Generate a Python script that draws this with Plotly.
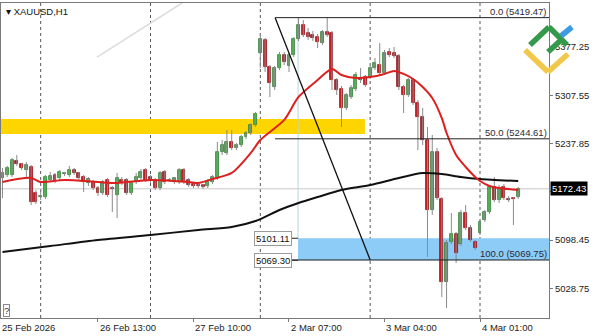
import plotly.graph_objects as go

# ---------------- data ----------------
bar_index = list(range(109))
open_ = [
    5188.0, 5192.4, 5192.4, 5212.6, 5208.2, 5199.6, 5203.9, 5166.4, 5160.6, 5160.6,
    5185.2, 5192.4, 5188.0, 5193.8, 5192.4, 5199.6, 5195.3, 5189.5, 5180.8, 5182.3,
    5173.6, 5166.4, 5185.2, 5173.6, 5163.5, 5185.2, 5185.2, 5166.4, 5182.3, 5188.0,
    5199.6, 5189.5, 5185.2, 5173.6, 5196.7, 5183.7, 5182.3, 5182.3, 5199.6, 5185.2,
    5179.4, 5177.9, 5177.9, 5176.5, 5182.3, 5188.0, 5225.6, 5224.1, 5240.0, 5231.3,
    5235.7, 5247.2, 5253.0, 5264.5, 5368.4, 5387.2, 5348.2, 5319.4, 5346.8, 5365.5,
    5349.7, 5365.5, 5388.6, 5408.8, 5397.3, 5394.4, 5391.5, 5382.9, 5398.7, 5397.3,
    5329.5, 5316.5, 5289.1, 5304.9, 5316.5, 5332.3, 5333.8, 5333.8, 5346.8, 5351.1,
    5339.6, 5369.9, 5368.4, 5364.1, 5319.4, 5307.8, 5329.5, 5296.3, 5276.1, 5242.9,
    5141.9, 5225.6, 5157.7, 5038.0, 5095.7, 5107.2, 5092.8, 5137.5, 5115.9, 5095.7,
    5108.7, 5127.4, 5139.0, 5175.1, 5156.3, 5175.1, 5157.7, 5159.2, 5160.6,
]
high = [
    5202.5, 5205.4, 5216.9, 5221.2, 5209.7, 5211.1, 5206.8, 5170.7, 5170.7, 5192.4,
    5196.7, 5195.3, 5199.6, 5196.7, 5205.4, 5202.5, 5196.7, 5192.4, 5189.5, 5185.2,
    5176.5, 5185.2, 5188.0, 5176.5, 5195.3, 5189.5, 5188.0, 5183.7, 5195.3, 5201.0,
    5202.5, 5192.4, 5188.0, 5198.2, 5199.6, 5188.0, 5189.5, 5202.5, 5202.5, 5188.0,
    5180.8, 5179.4, 5179.4, 5186.6, 5192.4, 5240.0, 5242.9, 5257.3, 5257.3, 5238.5,
    5250.1, 5255.9, 5267.4, 5283.3, 5397.3, 5390.1, 5351.1, 5349.7, 5369.9, 5369.9,
    5368.4, 5391.5, 5419.47, 5416.0, 5404.5, 5400.2, 5395.8, 5401.6, 5418.9, 5400.2,
    5332.3, 5320.8, 5310.7, 5322.2, 5341.0, 5346.8, 5336.7, 5349.7, 5361.2, 5382.9,
    5372.8, 5375.6, 5377.1, 5367.0, 5322.2, 5332.3, 5332.3, 5300.6, 5289.1, 5261.6,
    5250.1, 5231.3, 5160.6, 5098.6, 5137.5, 5110.1, 5141.9, 5149.1, 5120.2, 5098.6,
    5127.4, 5141.9, 5177.9, 5189.5, 5177.9, 5179.4, 5162.1, 5160.6, 5175.1,
]
low = [
    5159.2, 5189.5, 5189.5, 5205.4, 5199.6, 5188.0, 5149.1, 5150.5, 5156.3, 5157.7,
    5182.3, 5180.8, 5185.2, 5190.9, 5189.5, 5192.4, 5185.2, 5167.8, 5176.5, 5170.7,
    5162.1, 5163.5, 5160.6, 5139.0, 5130.3, 5177.9, 5163.5, 5163.5, 5179.4, 5185.2,
    5182.3, 5180.8, 5170.7, 5170.7, 5179.4, 5182.3, 5179.4, 5179.4, 5179.4, 5175.1,
    5173.6, 5173.6, 5172.2, 5173.6, 5179.4, 5185.2, 5221.2, 5221.2, 5228.5, 5228.5,
    5232.8, 5244.3, 5250.1, 5261.6, 5346.8, 5341.0, 5304.9, 5315.0, 5343.9, 5351.1,
    5341.0, 5362.6, 5385.7, 5391.5, 5387.2, 5385.7, 5375.6, 5380.0, 5391.5, 5315.0,
    5307.8, 5261.6, 5286.2, 5302.0, 5313.6, 5325.1, 5319.4, 5330.9, 5343.9, 5336.7,
    5336.7, 5362.6, 5361.2, 5315.0, 5281.8, 5304.9, 5293.4, 5228.5, 5235.7, 5074.1,
    5134.7, 5156.3, 5016.3, 5000.5, 5092.8, 5065.4, 5089.9, 5113.0, 5095.7, 5084.2,
    5105.8, 5124.6, 5136.1, 5153.4, 5152.0, 5156.3, 5153.4, 5120.2, 5157.7,
]
close = [
    5195.3, 5202.5, 5214.0, 5208.2, 5202.5, 5206.8, 5153.4, 5153.4, 5162.1, 5189.5,
    5190.9, 5183.7, 5196.7, 5195.3, 5199.6, 5195.3, 5188.0, 5182.3, 5186.6, 5173.6,
    5166.4, 5182.3, 5163.5, 5172.2, 5188.0, 5180.8, 5166.4, 5180.8, 5189.5, 5196.7,
    5185.2, 5185.2, 5173.6, 5195.3, 5182.3, 5185.2, 5188.0, 5199.6, 5182.3, 5177.9,
    5176.5, 5176.5, 5175.1, 5183.7, 5189.5, 5225.6, 5235.7, 5240.0, 5231.3, 5235.7,
    5247.2, 5253.0, 5264.5, 5280.4, 5388.6, 5348.2, 5325.1, 5346.8, 5365.5, 5355.4,
    5365.5, 5388.6, 5408.8, 5394.4, 5391.5, 5390.1, 5384.3, 5398.7, 5394.4, 5329.5,
    5315.0, 5289.1, 5307.8, 5317.9, 5336.7, 5329.5, 5322.2, 5346.8, 5354.0, 5339.6,
    5368.4, 5365.5, 5364.1, 5319.4, 5307.8, 5329.5, 5296.3, 5276.1, 5242.9, 5141.9,
    5225.6, 5159.2, 5038.0, 5094.3, 5107.2, 5079.8, 5137.5, 5115.9, 5098.6, 5087.0,
    5124.6, 5139.0, 5175.1, 5156.3, 5173.6, 5159.2, 5156.3, 5157.7, 5172.43,
]

# fast moving average (red)
ma_fast_bar = [0, 6, 8, 13, 20, 24, 31, 39, 41, 44, 48, 52, 54, 59, 62, 66, 69, 71, 74,
               77, 80, 82, 84, 86, 88, 90, 92, 93, 95, 97, 99, 100, 102, 104, 108]
ma_fast = [5182.3, 5188.1, 5182.3, 5185.2, 5182.3, 5180.8, 5185.2, 5182.3, 5180.8, 5186.6,
           5195.3, 5224.2, 5242.9, 5271.8, 5305.0, 5329.5, 5345.4, 5336.7, 5332.4,
           5333.8, 5338.2, 5342.5, 5338.2, 5330.9, 5319.4, 5303.5, 5274.6, 5253.0,
           5221.2, 5203.9, 5189.5, 5183.7, 5176.5, 5173.6, 5170.7]
# slow moving average (black)
ma_slow_bar = [0, 10, 20, 31, 41, 48, 53, 58, 62, 66, 71, 77, 83, 88, 92, 96, 100, 108]
ma_slow = [5081.3, 5089.9, 5098.6, 5105.8, 5113.0, 5117.4, 5126.0, 5141.9, 5152.0,
           5160.6, 5170.8, 5178.0, 5188.1, 5195.3, 5193.8, 5189.5, 5186.6, 5183.7]

x_tick_bars = [0, 20, 40, 60, 80, 100]
x_tick_labels = ["25 Feb 2026", "26 Feb 13:00", "27 Feb 10:00", "2 Mar 07:00",
                 "3 Mar 04:00", "4 Mar 01:00"]
day_sep_bars = [8, 31, 54, 77, 100]
y_tick_vals = [5028.75, 5098.45, 5168.15, 5237.85, 5307.55, 5377.25]

bid_price = 5172.43
fib_start_bar, fib_end_bar = 57.1, 77.0
fib_high, fib_low = 5419.47, 5069.75
fib_levels = [0.0, 50.0, 100.0]
yellow_zone = (5251.6, 5273.2)
yellow_zone_end_bar = 75.9
blue_zone = (5069.30, 5101.11)
blue_zone_start_bar = 61.9
light_trend = ([19.8, 37.6], [5362.6, 5440.6])

X_RANGE = [-0.31, 114.45]
Y_RANGE = [4986.0, 5440.6]
FONT = "Liberation Sans"

# ---------------- figure ----------------
fig = go.Figure()

# wicks
wx, wy = [], []
for i, h, l in zip(bar_index, high, low):
    wx += [i, i, None]
    wy += [l, h, None]
fig.add_trace(go.Scatter(x=wx, y=wy, mode="lines", line=dict(color="#8a8a8a", width=1),
                         hoverinfo="skip", showlegend=False))

# bodies
for up in (True, False):
    xs, base, hgt = [], [], []
    for i, o, c in zip(bar_index, open_, close):
        if (c >= o) == up:
            xs.append(i)
            base.append(min(o, c))
            hgt.append(abs(c - o))
    fig.add_trace(go.Bar(
        x=xs, y=hgt, base=base, width=0.62,
        marker=dict(color="#55b255" if up else "#c8202a",
                    line=dict(color="#2f7d34" if up else "#8e1418", width=0.8)),
        showlegend=False, hoverinfo="skip"))

fig.add_trace(go.Scatter(x=ma_slow_bar, y=ma_slow, mode="lines",
                         line=dict(color="#111111", width=2, shape="spline", smoothing=0.8),
                         showlegend=False, hoverinfo="skip"))
fig.add_trace(go.Scatter(x=ma_fast_bar, y=ma_fast, mode="lines",
                         line=dict(color="#dc2020", width=2, shape="spline", smoothing=0.8),
                         showlegend=False, hoverinfo="skip"))

shapes = []
# day separators
for b in day_sep_bars:
    shapes.append(dict(type="line", xref="x", yref="paper", x0=b, x1=b, y0=0, y1=1,
                       line=dict(color="#555555", width=1, dash="dot"), layer="below"))
# bid line
shapes.append(dict(type="line", xref="paper", yref="y", x0=0, x1=1, y0=bid_price, y1=bid_price,
                   line=dict(color="#c8c8c8", width=1), layer="below"))
# zones
shapes.append(dict(type="rect", xref="x", yref="y", x0=X_RANGE[0] - 1, x1=yellow_zone_end_bar,
                   y0=yellow_zone[0], y1=yellow_zone[1], fillcolor="#ffd500",
                   line=dict(width=0), layer="below"))
shapes.append(dict(type="rect", xref="x", yref="y", x0=blue_zone_start_bar, x1=X_RANGE[1] + 1,
                   y0=blue_zone[0], y1=blue_zone[1], fillcolor="#8cccf6",
                   line=dict(width=0), layer="below"))
# light trend line
shapes.append(dict(type="line", xref="x", yref="y", x0=light_trend[0][0], x1=light_trend[0][1],
                   y0=light_trend[1][0], y1=light_trend[1][1],
                   line=dict(color="#dcdcdc", width=1.5), layer="below"))
# vertical thin line at zone start
shapes.append(dict(type="line", xref="x", yref="y", x0=blue_zone_start_bar, x1=blue_zone_start_bar,
                   y0=blue_zone[1], y1=fib_high, line=dict(color="#b9d4e0", width=1), layer="below"))
# fibonacci
for lv in fib_levels:
    price = fib_high - (fib_high - fib_low) * lv / 100.0
    shapes.append(dict(type="line", xref="x", yref="y", x0=fib_start_bar, x1=X_RANGE[1] + 1,
                       y0=price, y1=price, line=dict(color="#222222", width=1)))
shapes.append(dict(type="line", xref="x", yref="y", x0=fib_start_bar, x1=fib_end_bar,
                   y0=fib_high, y1=fib_low, line=dict(color="#111111", width=1.3)))
# small connectors from price labels to zone
for p in blue_zone:
    shapes.append(dict(type="line", xref="x", yref="y", x0=60.6, x1=blue_zone_start_bar,
                       y0=p, y1=p, line=dict(color="#222222", width=1)))


# logo (decorative, pixel positions converted to paper coords)
def px(x):
    return (x - 1) / 548.0


def py(y):
    return 1 - (y - 3) / 315.0


def seg(x0, y0, x1, y1, color, w=5.5):
    return dict(type="line", xref="paper", yref="paper", x0=px(x0), y0=py(y0),
                x1=px(x1), y1=py(y1), line=dict(color=color, width=w), layer="above")


shapes += [
    seg(525, 50, 548, 72, "#f1c84a"), seg(548, 72, 568, 54, "#f1c84a"),
    seg(530, 45, 549, 27, "#34994a"), seg(549, 27, 567, 45, "#34994a"),
    seg(548, 52, 561, 40, "#34994a"),
    seg(561, 36, 572, 27, "#3d9be0"),
]

annotations = []
for b, t in zip(x_tick_bars, x_tick_labels):
    annotations.append(dict(x=b, y=0, xref="x", yref="paper", yanchor="top", xanchor="left",
                            yshift=-2, xshift=-2 if b == 0 else 0, text=t, showarrow=False,
                            font=dict(family=FONT, size=9.5, color="#222")))
fib_text = ["0.0 (5419.47)", "50.0 (5244.61)", "100.0 (5069.75)"]
for lv, t in zip(fib_levels, fib_text):
    price = fib_high - (fib_high - fib_low) * lv / 100.0
    annotations.append(dict(x=1, y=price, xref="paper", yref="y", xanchor="right",
                            yanchor="bottom", yshift=-1, text=t, showarrow=False,
                            font=dict(family=FONT, size=9.5, color="#2a2a3a")))
for p in blue_zone:
    annotations.append(dict(x=56.7, y=p, xref="x", yref="y", text=f"{p:.2f}", showarrow=False,
                            bgcolor="white", bordercolor="#9a9a9a", borderwidth=1, borderpad=1,
                            font=dict(family=FONT, size=9.5, color="#111")))
annotations.append(dict(x=1, y=bid_price, xref="paper", yref="y", xanchor="left", xshift=1,
                        text=f"{bid_price:.2f}", showarrow=False, bgcolor="black",
                        borderpad=1, font=dict(family=FONT, size=9.5, color="white")))
annotations.append(dict(x=0.006, y=1, xref="paper", yref="paper", xanchor="left", yanchor="top",
                        yshift=-1, text="▾ XAUUSD,H1", showarrow=False,
                        font=dict(family=FONT, size=9.5, color="#111")))
annotations.append(dict(x=0.004, y=0, xref="paper", yref="paper", xanchor="left",
                        yanchor="bottom", yshift=1, text="?", showarrow=False,
                        bgcolor="white", bordercolor="#8a8a8a", borderwidth=1, borderpad=0,
                        font=dict(family=FONT, size=9.5, color="#333")))

# the tick under the bid label is hidden by it in the reference
y_tick_text = ["" if abs(v - bid_price) < 10 else f"{v:.2f}" for v in y_tick_vals]

fig.update_layout(
    width=598, height=336,
    margin=dict(l=1, r=49, t=3, b=18),
    paper_bgcolor="white", plot_bgcolor="white",
    barmode="overlay", bargap=0,
    shapes=shapes, annotations=annotations,
    xaxis=dict(range=X_RANGE, showgrid=False, zeroline=False, showline=True, mirror=True,
               linecolor="#7a7a7a", linewidth=1, tickvals=x_tick_bars[1:],
               ticks="outside", ticklen=3, tickcolor="#7a7a7a", showticklabels=False),
    yaxis=dict(range=Y_RANGE, side="right", showgrid=False, zeroline=False, showline=True,
               mirror=True, linecolor="#7a7a7a", linewidth=1, tickvals=y_tick_vals,
               ticktext=y_tick_text, ticks="outside", ticklen=3,
               tickcolor="#7a7a7a", tickfont=dict(family=FONT, size=9.5, color="#222")),
    font=dict(family=FONT, size=9.5),
)

fig.write_html("out.html")
